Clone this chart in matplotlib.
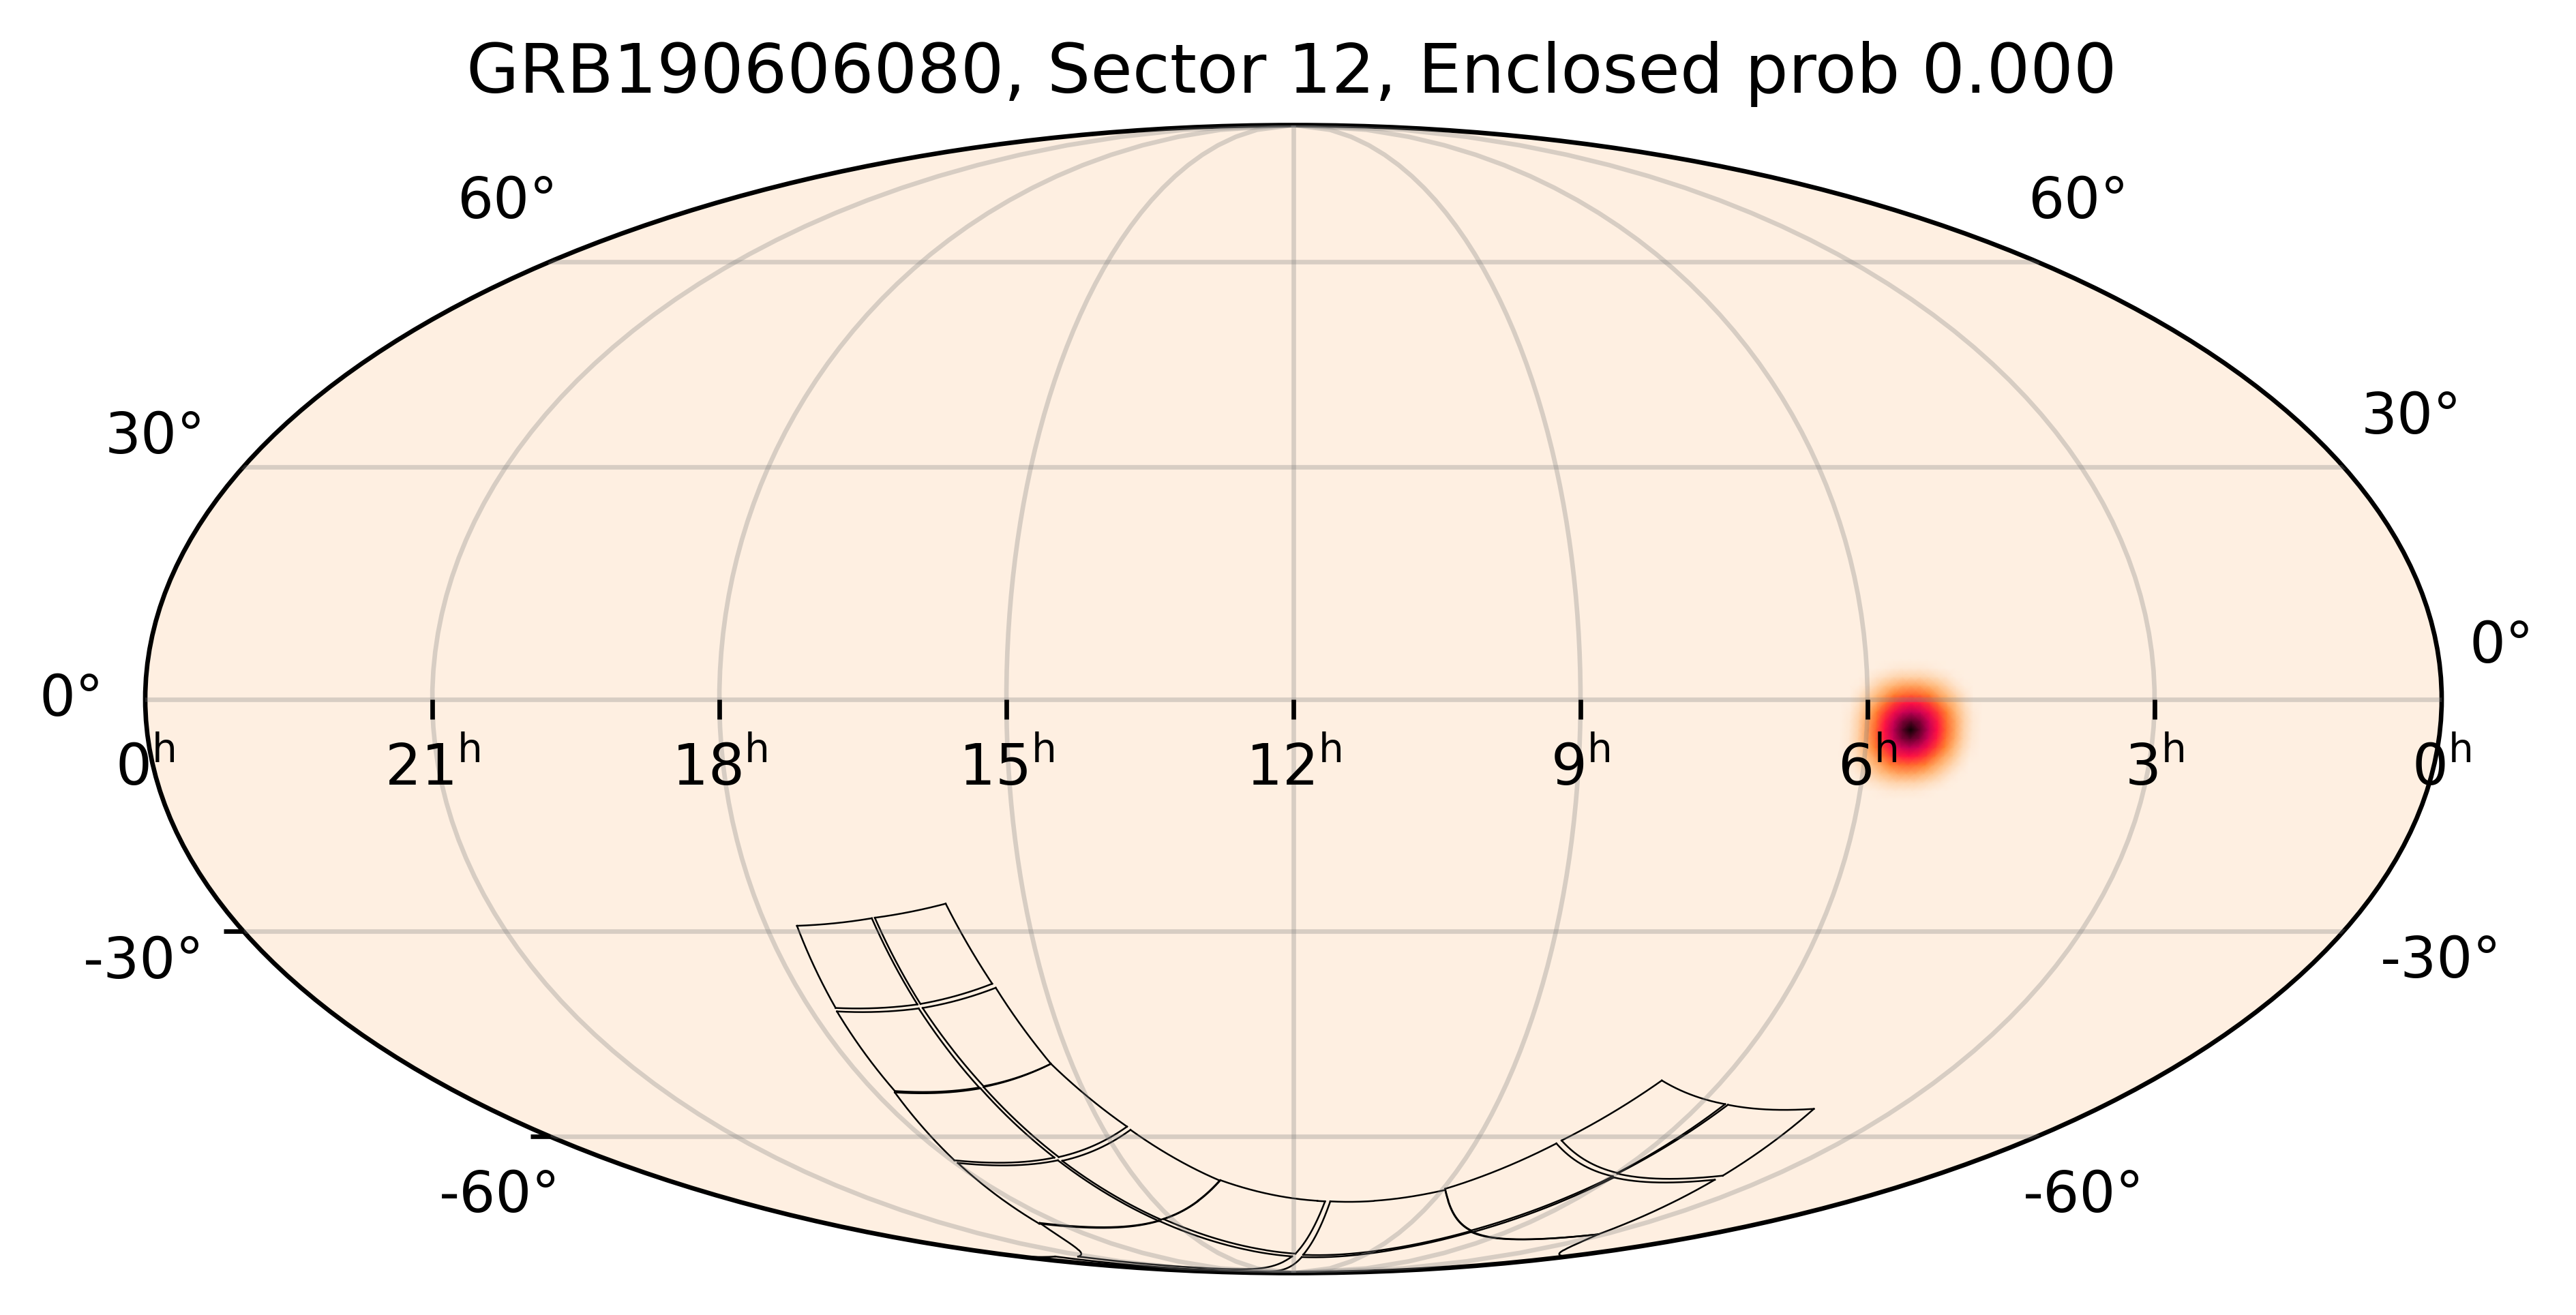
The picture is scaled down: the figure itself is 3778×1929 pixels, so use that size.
import numpy as np
import matplotlib
matplotlib.use('Agg')
import matplotlib.pyplot as plt
from matplotlib.colors import LinearSegmentedColormap
from matplotlib.markers import TICKDOWN, TICKLEFT

W, H, DPI = 3779, 1929, 600
TITLE = 'GRB190606080, Sector 12, Enclosed prob 0.000'

ra_tick_hours = [24, 21, 18, 15, 12, 9, 6, 3, 0]
ra_tick_labels = ['0', '21', '18', '15', '12', '9', '6', '3', '0']
ra_hours_with_tick = [21, 18, 15, 12, 9, 6, 3]
dec_with_tick = [-30, -60]

dec_label_text = ['60°', '30°', '0°', '-30°', '-60°', '60°', '30°', '0°', '-30°', '-60°']
dec_label_px_x = [670, 154, 58, 122, 644, 2974, 3463, 3622, 3491, 2967]
dec_label_px_y = [320, 665, 1050, 1435, 1778, 320, 636, 972, 1434, 1778]

# CCD corners (RA, Dec in degrees); edges are great circles
ccd01_ra = [264.72, 251.52, 249.62, 265.15]
ccd01_dec = [-29.31, -28.30, -40.09, -40.59]
ccd02_ra = [250.98, 238.35, 234.38, 249.01]
ccd02_dec = [-28.23, -26.36, -37.20, -40.02]
ccd03_ra = [265.30, 249.75, 246.92, 265.54]
ccd03_dec = [-41.08, -40.66, -52.22, -52.76]
ccd04_ra = [248.97, 234.00, 229.24, 245.80]
ccd04_dec = [-40.59, -37.76, -48.65, -52.02]
ccd05_ra = [265.80, 246.76, 242.30, 269.29]
ccd05_dec = [-52.97, -52.35, -63.51, -63.98]
ccd06_ra = [245.91, 229.24, 219.10, 241.04]
ccd06_dec = [-52.14, -48.65, -58.36, -63.42]
ccd07_ra = [269.34, 242.04, 230.71, 278.19]
ccd07_dec = [-64.44, -63.98, -75.38, -75.95]
ccd08_ra = [241.02, 218.65, 201.25, 229.29]
ccd08_dec = [-64.07, -58.88, -67.55, -75.10]
ccd09_ra = [277.31, 230.63, 180.89, 321.60]
ccd09_dec = [-75.80, -75.32, -83.76, -83.80]
ccd10_ra = [200.98, 169.77, 178.76, 228.06]
ccd10_dec = [-67.50, -71.44, -83.01, -74.99]
ccd11_ra = [168.07, 134.12, 105.93, 173.93]
ccd11_dec = [-71.44, -69.29, -77.52, -83.32]
ccd12_ra = [174.45, 104.95, 47.74, 336.70]
ccd12_dec = [-83.95, -77.77, -78.28, -83.80]
ccd13_ra = [134.41, 114.88, 89.88, 106.31]
ccd13_dec = [-69.08, -61.12, -66.80, -77.42]
ccd14_ra = [104.21, 89.10, 59.16, 47.74]
ccd14_dec = [-77.77, -67.00, -67.41, -78.28]
ccd15_ra = [114.24, 102.73, 84.49, 90.03]
ccd15_dec = [-60.63, -51.15, -54.79, -66.19]
ccd16_ra = [83.72, 63.49, 59.24, 89.75]
ccd16_dec = [-54.89, -55.53, -66.68, -66.31]

footprints = [
    (ccd01_ra, ccd01_dec), (ccd02_ra, ccd02_dec), (ccd03_ra, ccd03_dec), (ccd04_ra, ccd04_dec),
    (ccd05_ra, ccd05_dec), (ccd06_ra, ccd06_dec), (ccd07_ra, ccd07_dec), (ccd08_ra, ccd08_dec),
    (ccd09_ra, ccd09_dec), (ccd10_ra, ccd10_dec), (ccd11_ra, ccd11_dec), (ccd12_ra, ccd12_dec),
    (ccd13_ra, ccd13_dec), (ccd14_ra, ccd14_dec), (ccd15_ra, ccd15_dec), (ccd16_ra, ccd16_dec),
]

blob_ra = [72.06, 73.44, 74.82, 76.2, 77.58, 78.96, 80.34, 81.72, 83.1, 84.48, 85.86, 87.24, 88.62, 90.0, 91.38, 92.76, 94.14]
blob_dec = [-12.86, -11.74, -10.62, -9.5, -8.38, -7.26, -6.14, -5.02, -3.9, -2.78, -1.66, -0.54, 0.58, 1.7, 2.82, 3.94, 5.06]
blob_prob = [
    [0, 0, 0, 0, 0, 0, 0, 0, 0, 0, 0, 0, 0, 0, 0, 0, 0],
    [0, 0.00, 0.00, 0.00, 0.00, 0.01, 0.02, 0.03, 0.03, 0.03, 0.02, 0.01, 0.00, 0.00, 0.00, 0.00, 0],
    [0, 0.00, 0.00, 0.01, 0.04, 0.07, 0.10, 0.12, 0.12, 0.12, 0.10, 0.07, 0.04, 0.01, 0.00, 0.00, 0],
    [0, 0.00, 0.01, 0.05, 0.11, 0.18, 0.23, 0.27, 0.28, 0.27, 0.23, 0.18, 0.11, 0.05, 0.01, 0.00, 0],
    [0, 0.00, 0.04, 0.11, 0.20, 0.28, 0.38, 0.42, 0.44, 0.42, 0.38, 0.28, 0.20, 0.11, 0.04, 0.00, 0],
    [0, 0.01, 0.07, 0.18, 0.28, 0.41, 0.52, 0.58, 0.60, 0.58, 0.52, 0.41, 0.28, 0.18, 0.07, 0.01, 0],
    [0, 0.02, 0.10, 0.23, 0.38, 0.52, 0.63, 0.72, 0.76, 0.72, 0.63, 0.52, 0.38, 0.23, 0.10, 0.02, 0],
    [0, 0.03, 0.12, 0.27, 0.42, 0.58, 0.72, 0.85, 0.90, 0.85, 0.72, 0.58, 0.42, 0.27, 0.12, 0.03, 0],
    [0, 0.03, 0.12, 0.28, 0.44, 0.60, 0.76, 0.90, 1.00, 0.90, 0.76, 0.60, 0.44, 0.28, 0.12, 0.03, 0],
    [0, 0.03, 0.12, 0.27, 0.42, 0.58, 0.72, 0.85, 0.90, 0.85, 0.72, 0.58, 0.42, 0.27, 0.12, 0.03, 0],
    [0, 0.02, 0.10, 0.23, 0.38, 0.52, 0.63, 0.72, 0.76, 0.72, 0.63, 0.52, 0.38, 0.23, 0.10, 0.02, 0],
    [0, 0.01, 0.07, 0.18, 0.28, 0.41, 0.52, 0.58, 0.60, 0.58, 0.52, 0.41, 0.28, 0.18, 0.07, 0.01, 0],
    [0, 0.00, 0.04, 0.11, 0.20, 0.28, 0.38, 0.42, 0.44, 0.42, 0.38, 0.28, 0.20, 0.11, 0.04, 0.00, 0],
    [0, 0.00, 0.01, 0.05, 0.11, 0.18, 0.23, 0.27, 0.28, 0.27, 0.23, 0.18, 0.11, 0.05, 0.01, 0.00, 0],
    [0, 0.00, 0.00, 0.01, 0.04, 0.07, 0.10, 0.12, 0.12, 0.12, 0.10, 0.07, 0.04, 0.01, 0.00, 0.00, 0],
    [0, 0.00, 0.00, 0.00, 0.00, 0.01, 0.02, 0.03, 0.03, 0.03, 0.02, 0.01, 0.00, 0.00, 0.00, 0.00, 0],
    [0, 0, 0, 0, 0, 0, 0, 0, 0, 0, 0, 0, 0, 0, 0, 0, 0],
]

BG = '#feefe1'
cmap = LinearSegmentedColormap.from_list('cylon_like', [
    (0.00, BG), (0.20, '#ffbe82'), (0.38, '#ff8030'), (0.50, '#ff4a2c'),
    (0.60, '#ff0f45'), (0.74, '#c80058'), (0.88, '#6e0030'), (1.00, '#0a0000')])


def lon_of(ra_deg):
    return np.radians(180.0 - np.asarray(ra_deg, dtype=float))


def unit(ra, dec):
    r, d = np.radians(ra), np.radians(dec)
    return np.array([np.cos(d) * np.cos(r), np.cos(d) * np.sin(r), np.sin(d)])


def geodesic_pieces(ra0, dec0, ra1, dec1, n=240):
    """The great circle between two corners as (lon, lat) pieces, split at the map edge."""
    p, q = unit(ra0, dec0), unit(ra1, dec1)
    ang = np.arccos(np.clip(p @ q, -1, 1))
    t = np.linspace(0, 1, n)[:, None]
    v = (np.sin((1 - t) * ang) * p + np.sin(t * ang) * q) / np.sin(ang)
    ra = np.degrees(np.arctan2(v[:, 1], v[:, 0])) % 360.0
    lat = np.arcsin(v[:, 2])
    lon = lon_of(ra)
    jumps = np.where(np.abs(np.diff(lon)) > np.pi)[0]
    pieces, start = [], 0
    prefix = None
    for j in jumps:
        side = np.sign(lon[j])
        xs, ys = list(lon[start:j + 1]) + [side * np.pi], list(lat[start:j + 1]) + [lat[j]]
        if prefix is not None:
            xs, ys = [prefix[0]] + xs, [prefix[1]] + ys
        pieces.append((xs, ys))
        prefix = (-side * np.pi, lat[j + 1])
        start = j + 1
    xs, ys = list(lon[start:]), list(lat[start:])
    if prefix is not None:
        xs, ys = [prefix[0]] + xs, [prefix[1]] + ys
    pieces.append((xs, ys))
    return pieces


fig = plt.figure(figsize=(W / DPI, H / DPI), dpi=DPI)
ax = fig.add_axes([213 / W, 61.5 / H, 3368 / W, 1684 / H], projection='mollweide')
ax.set_facecolor(BG)
ax.set_longitude_grid(45)
ax.set_latitude_grid(30)
ax.set_longitude_grid_ends(90)
ax.set_xticklabels([])
ax.set_yticklabels([])
ax.set_axisbelow(False)
ax.grid(True, color='#7f7f7f', alpha=0.3, linewidth=0.8)

X, Y = np.meshgrid(lon_of(blob_ra), np.radians(blob_dec))
ax.pcolormesh(X, Y, np.array(blob_prob), cmap=cmap, vmin=0, vmax=1, shading='gouraud', zorder=1)

for ra, dec in footprints:
    for k in range(4):
        for xs, ys in geodesic_pieces(ra[k], dec[k], ra[(k + 1) % 4], dec[(k + 1) % 4]):
            ax.plot(xs, ys, color='black', lw=0.3, zorder=2)

ax.plot(lon_of(np.array(ra_hours_with_tick) * 15.0), np.zeros(len(ra_hours_with_tick)), ls='none',
        marker=TICKDOWN, ms=3.5, mew=0.8, color='black', clip_on=False, zorder=3)
ax.plot(np.full(len(dec_with_tick), -np.pi), np.radians(dec_with_tick), ls='none',
        marker=TICKLEFT, ms=3.5, mew=0.8, color='black', clip_on=False, zorder=3)

for h, lab in zip(ra_tick_hours, ra_tick_labels):
    ax.annotate(r'$\mathrm{%s^{h}}$' % lab, (lon_of(h * 15.0), 0.0), xytext=(0.0, -15.1),
                textcoords='offset points', ha='center', va='baseline', fontsize=10,
                annotation_clip=False, zorder=4)

for s, px, py in zip(dec_label_text, dec_label_px_x, dec_label_px_y):
    fig.text(px / W, 1 - py / H, s, ha='left', va='baseline', fontsize=10)

fig.text(1894 / W, 1 - 136 / H, TITLE, ha='center', va='baseline', fontsize=12)
fig.savefig('out.png', dpi=DPI)
